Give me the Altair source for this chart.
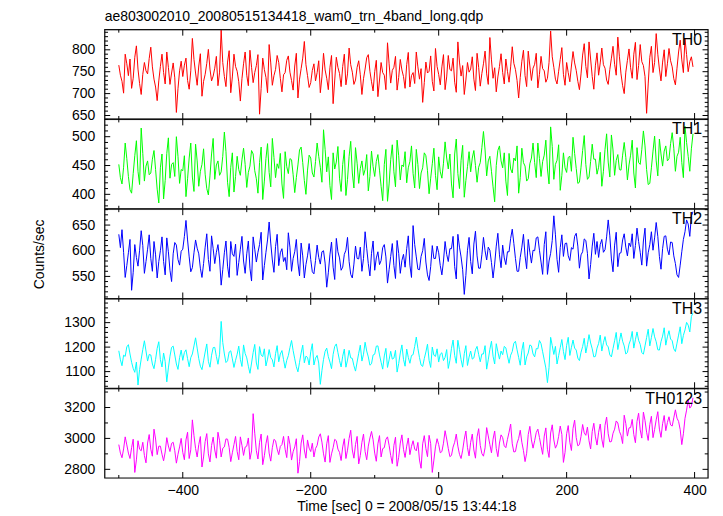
import altair as alt
import pandas as pd

# ---------------- data ----------------
t_start = -500
t_step = 2.5

th0 = [765, 742, 728, 701, 790, 768, 741, 779, 712, 735, 783, 809, 756, 723, 698, 744, 771, 752, 745, 780,
       806, 761, 733, 715, 684, 729, 762, 790, 748, 722, 795, 760, 721, 747, 770, 736, 657, 711, 752, 774,
       739, 765, 781, 730, 710, 752, 826, 778, 747, 719, 763, 791, 694, 728, 744, 769, 801, 756, 729, 740,
       758, 785, 718, 749, 845, 771, 739, 716, 772, 798, 702, 738, 790, 762, 751, 727, 683, 734, 768, 795,
       742, 718, 799, 760, 725, 748, 764, 789, 653, 712, 781, 755, 737, 702, 812, 770, 719, 741, 755, 787,
       771, 735, 704, 743, 748, 776, 786, 749, 730, 708, 763, 792, 690, 733, 757, 781, 819, 766, 741, 714,
       725, 753, 768, 729, 748, 775, 702, 738, 792, 754, 735, 709, 759, 787, 677, 731, 783, 760, 746, 716,
       762, 790, 720, 745, 804, 766, 749, 721, 731, 760, 775, 743, 698, 734, 756, 782, 789, 751, 727, 706,
       750, 776, 693, 731, 771, 748, 742, 709, 816, 768, 724, 753, 760, 785, 708, 737, 778, 754, 739, 712,
       766, 794, 715, 741, 748, 723, 795, 761, 733, 757, 680, 725, 772, 747, 751, 786, 728, 706, 803, 762,
       744, 720, 761, 789, 709, 738, 787, 755, 752, 781, 726, 703, 818, 772, 740, 764, 698, 731, 771, 749,
       756, 784, 733, 707, 792, 760, 717, 746, 768, 797, 745, 721, 828, 777, 735, 759, 704, 738, 762, 791,
       748, 722, 779, 751, 726, 761, 807, 769, 755, 730, 690, 737, 774, 799, 741, 716, 797, 763, 730, 758,
       767, 792, 713, 744, 785, 757, 752, 726, 735, 771, 843, 784, 760, 733, 722, 751, 778, 805, 744, 719,
       771, 748, 727, 763, 796, 770, 753, 728, 709, 745, 788, 814, 762, 736, 818, 779, 739, 710, 765, 793,
       742, 770, 804, 766, 758, 731, 721, 755, 781, 808, 767, 742, 829, 784, 745, 718, 700, 749, 776, 802,
       759, 735, 790, 817, 732, 764, 812, 773, 764, 739, 655, 722, 783, 808, 748, 771, 837, 790, 756, 729,
       772, 800, 739, 768, 803, 775, 761, 734, 720, 758, 795, 822, 777, 748, 826, 789, 750, 773, 784, 761]

th1 = [452, 429, 418, 447, 489, 462, 431, 408, 402, 436, 467, 493, 440, 417, 515, 471, 423, 449, 458, 434,
       437, 461, 476, 443, 409, 385, 446, 470, 392, 424, 471, 498, 428, 452, 455, 431, 500, 466, 419, 443,
       441, 467, 396, 427, 463, 489, 430, 405, 487, 458, 414, 440, 452, 479, 435, 410, 399, 432, 470, 497,
       426, 451, 458, 433, 439, 466, 508, 474, 421, 396, 447, 472, 404, 431, 466, 443, 433, 460, 480, 452,
       412, 438, 449, 476, 470, 441, 427, 402, 455, 482, 391, 423, 462, 488, 438, 413, 497, 464, 429, 453,
       445, 471, 418, 393, 474, 448, 436, 462, 460, 434, 403, 429, 451, 477, 482, 455, 424, 400, 442, 468,
       463, 437, 430, 457, 489, 466, 447, 421, 512, 478, 439, 465, 415, 391, 472, 444, 456, 483, 428, 405,
       452, 477, 398, 426, 466, 492, 437, 411, 481, 454, 419, 445, 458, 433, 443, 469, 406, 431, 475, 448,
       431, 457, 469, 442, 414, 389, 452, 478, 388, 418, 460, 486, 439, 413, 494, 467, 425, 451, 448, 474,
       420, 446, 457, 484, 436, 411, 478, 452, 410, 437, 446, 472, 467, 441, 401, 428, 453, 480, 433, 408,
       465, 439, 428, 454, 491, 463, 444, 470, 418, 394, 470, 496, 436, 410, 459, 485, 395, 424, 448, 474,
       439, 463, 476, 450, 421, 447, 455, 481, 509, 477, 432, 458, 466, 440, 413, 387, 450, 476, 484, 458,
       446, 472, 423, 398, 471, 444, 437, 463, 458, 484, 402, 429, 480, 455, 449, 423, 427, 453, 463, 489,
       455, 429, 489, 462, 431, 457, 468, 494, 444, 418, 517, 483, 426, 452, 459, 486, 407, 433, 472, 446,
       438, 464, 466, 440, 499, 471, 445, 419, 421, 447, 476, 502, 452, 426, 430, 457, 487, 461, 461, 435,
       447, 473, 414, 440, 478, 505, 456, 430, 503, 477, 433, 459, 469, 443, 442, 468, 490, 464, 425, 451,
       468, 494, 437, 411, 481, 455, 452, 478, 510, 484, 443, 417, 419, 446, 475, 501, 458, 432, 496, 470,
       449, 475, 484, 458, 462, 488, 507, 480, 440, 466, 473, 499, 455, 429, 518, 490, 466, 440, 479, 505]

th2 = [632, 606, 641, 597, 548, 571, 596, 622, 523, 558, 612, 587, 570, 601, 639, 610, 556, 579, 603, 631,
       585, 560, 618, 592, 547, 579, 600, 627, 579, 553, 625, 598, 562, 540, 594, 616, 611, 583, 572, 599,
       603, 628, 659, 621, 588, 559, 567, 596, 621, 605, 594, 566, 548, 575, 607, 633, 583, 560, 629, 604,
       575, 597, 612, 584, 533, 563, 596, 619, 570, 548, 618, 594, 589, 613, 552, 577, 603, 628, 580, 556,
       594, 619, 566, 541, 627, 603, 578, 597, 612, 636, 543, 571, 597, 621, 656, 615, 582, 558, 608, 632,
       571, 596, 604, 579, 587, 563, 635, 607, 560, 585, 598, 622, 576, 551, 615, 590, 547, 573, 590, 614,
       583, 559, 555, 581, 611, 587, 574, 598, 600, 576, 529, 557, 592, 617, 568, 544, 624, 598, 586, 562,
       568, 593, 601, 626, 579, 554, 547, 574, 609, 585, 584, 607, 560, 585, 637, 605, 575, 551, 595, 619,
       562, 586, 598, 573, 581, 606, 612, 588, 537, 563, 589, 614, 571, 546, 620, 595, 556, 581, 593, 568,
       604, 629, 572, 548, 649, 612, 588, 564, 563, 589, 600, 624, 578, 553, 542, 569, 610, 585, 585, 609,
       596, 571, 553, 580, 618, 593, 579, 604, 604, 628, 569, 545, 632, 607, 588, 563, 515, 552, 601, 626,
       579, 555, 613, 638, 590, 566, 566, 592, 626, 600, 582, 607, 601, 577, 547, 574, 609, 634, 592, 567,
       611, 586, 573, 598, 598, 624, 642, 614, 585, 560, 560, 587, 607, 632, 590, 565, 622, 597, 576, 601,
       600, 625, 627, 601, 578, 554, 612, 637, 554, 580, 595, 620, 668, 631, 583, 558, 606, 631, 589, 614,
       615, 590, 581, 606, 603, 628, 634, 609, 566, 592, 598, 623, 620, 595, 545, 573, 609, 634, 593, 618,
       587, 612, 622, 597, 602, 627, 660, 629, 584, 559, 611, 636, 569, 595, 596, 621, 633, 607, 590, 615,
       608, 633, 585, 610, 644, 618, 597, 572, 619, 644, 570, 596, 612, 637, 601, 625, 655, 628, 589, 564,
       604, 628, 629, 603, 592, 617, 616, 590, 575, 553, 548, 572, 598, 622, 637, 660, 652, 628, 668, 676]

th3 = [1185, 1148, 1124, 1167, 1162, 1201, 1210, 1172, 1138, 1113, 1097, 1139, 1045, 1108, 1151, 1190, 1226, 1184, 1143, 1170,
       1168, 1131, 1112, 1150, 1195, 1222, 1149, 1119, 1176, 1141, 1058, 1115, 1163, 1199, 1204, 1168, 1131, 1109, 1157, 1188,
       1146, 1178, 1189, 1153, 1120, 1157, 1172, 1205, 1238, 1196, 1153, 1122, 1108, 1144, 1180, 1213, 1142, 1118, 1167, 1198,
       1199, 1162, 1130, 1171, 1305, 1219, 1172, 1137, 1144, 1180, 1185, 1152, 1117, 1146, 1171, 1204, 1150, 1121, 1209, 1174,
       1156, 1122, 1093, 1135, 1178, 1211, 1135, 1109, 1202, 1168, 1161, 1193, 1123, 1151, 1190, 1157, 1148, 1119, 1173, 1206,
       1140, 1172, 1186, 1149, 1114, 1146, 1165, 1198, 1227, 1186, 1152, 1120, 1099, 1138, 1176, 1208, 1136, 1163, 1158, 1127,
       1181, 1214, 1127, 1155, 1166, 1135, 1048, 1104, 1150, 1183, 1196, 1161, 1139, 1112, 1170, 1203, 1213, 1178, 1145, 1119,
       1163, 1192, 1118, 1147, 1187, 1156, 1154, 1124, 1102, 1139, 1175, 1208, 1143, 1171, 1220, 1184, 1160, 1126, 1132, 1168,
       1171, 1204, 1205, 1168, 1138, 1110, 1164, 1195, 1117, 1148, 1183, 1151, 1155, 1187, 1098, 1133, 1176, 1209, 1150, 1122,
       1192, 1158, 1134, 1166, 1169, 1203, 1241, 1195, 1157, 1127, 1121, 1153, 1180, 1212, 1146, 1117, 1200, 1167, 1162, 1193,
       1139, 1171, 1177, 1145, 1158, 1190, 1113, 1146, 1195, 1229, 1166, 1134, 1228, 1190, 1149, 1118, 1173, 1206, 1125, 1159,
       1184, 1151, 1156, 1189, 1203, 1170, 1140, 1172, 1172, 1206, 1110, 1148, 1191, 1224, 1163, 1131, 1214, 1181, 1151, 1184,
       1169, 1203, 1197, 1164, 1134, 1167, 1182, 1216, 1224, 1189, 1158, 1126, 1187, 1220, 1127, 1160, 1176, 1209, 1205, 1172,
       1160, 1194, 1193, 1227, 1214, 1181, 1148, 1115, 1055, 1117, 1240, 1206, 1170, 1203, 1131, 1165, 1198, 1231, 1182, 1149,
       1207, 1240, 1166, 1199, 1229, 1196, 1188, 1155, 1145, 1179, 1202, 1236, 1176, 1210, 1251, 1217, 1193, 1160, 1162, 1196,
       1215, 1249, 1184, 1218, 1243, 1209, 1201, 1168, 1160, 1194, 1226, 1260, 1190, 1224, 1258, 1224, 1205, 1172, 1178, 1212,
       1230, 1264, 1196, 1230, 1262, 1228, 1211, 1178, 1171, 1205, 1239, 1273, 1205, 1239, 1276, 1242, 1222, 1189, 1188, 1222,
       1245, 1279, 1208, 1242, 1267, 1233, 1226, 1193, 1182, 1216, 1249, 1283, 1214, 1248, 1270, 1301, 1290, 1262, 1325, 1340]

th0123 = [2960, 2905, 2875, 2932, 3010, 2958, 2905, 2870, 2940, 2995, 2780, 2861, 2985, 2930, 2920, 2975, 2890, 2842, 2970, 3025,
          2930, 2885, 3060, 2996, 2895, 2950, 2950, 2898, 2855, 2912, 3005, 2951, 2915, 2968, 2975, 2921, 2840, 2897, 2945, 3000,
          2910, 2862, 2990, 3040, 2870, 2926, 3120, 3018, 2935, 2880, 2960, 3012, 2815, 2880, 2980, 3031, 2900, 2848, 2955, 3008,
          2925, 2872, 3040, 2985, 2880, 2936, 2945, 2997, 2995, 2941, 2850, 2907, 2960, 3013, 2915, 2862, 3010, 2955, 2890, 2944,
          2950, 3003, 2865, 2919, 3160, 3034, 2920, 2867, 2975, 3028, 2830, 2888, 2965, 3018, 2905, 2853, 2940, 2994, 2985, 2931,
          2895, 2949, 2960, 3013, 2930, 2876, 3015, 2962, 2860, 2914, 2945, 2998, 2775, 2850, 2970, 3023, 2925, 2872, 2990, 2937,
          2915, 2969, 2880, 2934, 2955, 3009, 3030, 2976, 2900, 2847, 2965, 3018, 2845, 2900, 2940, 2994, 2985, 2931, 2910, 2857,
          2945, 2998, 2870, 2924, 3000, 3053, 2925, 2872, 2960, 3013, 2835, 2890, 2975, 3028, 2915, 2862, 2950, 3003, 3045, 2991,
          2905, 2852, 2965, 3018, 2880, 2934, 2940, 2994, 3010, 2956, 2890, 2837, 2955, 3008, 2820, 2878, 2970, 3023, 2930, 2877,
          2950, 3003, 2895, 2949, 2985, 2931, 2920, 2974, 2860, 2807, 2965, 3018, 2935, 2882, 3020, 2966, 2780, 2860, 2945, 2998,
          2960, 2907, 2915, 2969, 3050, 2996, 2935, 2882, 2890, 2944, 2975, 3028, 2950, 2897, 2870, 2924, 2995, 3048, 2940, 2887,
          2975, 3028, 2925, 2872, 3010, 3063, 2955, 2902, 2885, 2939, 3070, 3016, 2960, 2907, 2995, 3048, 2935, 2882, 2970, 3023,
          3005, 2952, 2940, 2994, 3040, 3093, 2965, 2912, 2915, 2969, 3000, 3053, 2975, 2922, 2850, 2904, 3025, 3078, 2990, 2937,
          2985, 3038, 3060, 3006, 2950, 2897, 3015, 3068, 2930, 2877, 3035, 3088, 2990, 2937, 2960, 3013, 3080, 3026, 2845, 2910,
          3030, 3083, 2975, 2922, 3065, 3118, 3005, 2952, 2960, 3013, 3090, 3036, 3020, 3073, 2985, 2932, 3045, 3098, 3010, 2957,
          3040, 3093, 2995, 2942, 3085, 3138, 3030, 2977, 2980, 3033, 3060, 3113, 3100, 3046, 3020, 2967, 3150, 3096, 3015, 3068,
          3070, 3123, 3025, 2972, 3110, 3163, 3055, 3002, 3170, 3116, 3040, 2987, 3090, 3143, 3005, 3058, 3120, 3173, 3060, 3007,
          3095, 3148, 3050, 3103, 3140, 3087, 3080, 3133, 3185, 3131, 3110, 3057, 2960, 3030, 3130, 3183, 3250, 3196, 3210, 3263]

panel_names = ["TH0", "TH1", "TH2", "TH3", "TH0123"]
panel_series = [th0, th1, th2, th3, th0123]
panel_colors = ["#ff0000", "#00ff00", "#0000ff", "#00ffff", "#ff00ff"]
y_domains = [[642, 846], [375, 530], [507, 681], [1032, 1397], [2744, 3322]]
y_major = [[650, 700, 750, 800], [400, 450, 500], [550, 600, 650],
           [1100, 1200, 1300], [2800, 3000, 3200]]
y_major_step = [50, 50, 50, 100, 200]
y_minor_step = [10, 10, 10, 20, 100]

x_domain = [-522, 421]
x_labels = [-400, -200, 0, 200, 400]
x_minor = [-500, -300, -100, 100, 300]

title_text = "ae803002010_20080515134418_wam0_trn_4band_long.qdp"
x_title = "Time [sec] 0 = 2008/05/15 13:44:18"
y_title = "Counts/sec"

FONT = "Liberation Sans"
W = 605
H = 89.6
MAJ = 5.5   # major tick length (px)
MIN = 3.3   # minor tick length (px)


def panel(i):
    vals = panel_series[i]
    df = pd.DataFrame({"t": [t_start + t_step * k for k in range(len(vals))],
                       "v": vals})
    lo, hi = y_domains[i]
    step = y_minor_step[i]
    all_ticks = [v for v in range(lo - lo % step, hi + 1, step) if lo <= v <= hi]
    ymaj = [v for v in all_ticks if v % y_major_step[i] == 0]
    ymin = [v for v in all_ticks if v % y_major_step[i] != 0]

    xs = alt.Scale(domain=x_domain, nice=False, zero=False)
    ys = alt.Scale(domain=[lo, hi], nice=False, zero=False)
    bottom = i == len(panel_series) - 1

    if bottom:
        x_axis = alt.Axis(values=x_labels, ticks=False, tickSize=0, domain=False,
                          grid=False, labelPadding=6, labelFontSize=14,
                          labelFont=FONT, labelColor="black", labelFlush=False,
                          title=x_title, titleFontSize=14, titleFont=FONT,
                          titleFontWeight="normal", titleColor="black",
                          titlePadding=2)
    else:
        x_axis = None

    y_axis = alt.Axis(values=y_major[i], format="d", ticks=False, tickSize=0,
                      domain=False, grid=False, labelPadding=10, labelFontSize=14,
                      labelFont=FONT, labelColor="black",
                      minExtent=46, maxExtent=46,
                      title=y_title, titleFontSize=14, titleFont=FONT,
                      titleFontWeight="normal", titleColor="black",
                      titlePadding=12, titleOpacity=1 if i == 2 else 0)

    X = lambda f: alt.X(f, scale=xs, axis=x_axis)
    Y = lambda f: alt.Y(f, scale=ys, axis=y_axis)

    layers = [alt.Chart(df).mark_line(color=panel_colors[i], strokeWidth=1, clip=True).encode(
        x=X("t:Q"), y=Y("v:Q"))]

    # panel frame
    layers.append(alt.Chart(pd.DataFrame({"f": [0]})).mark_rect(
        fill="transparent", stroke="#111111", strokeWidth=1.2
    ).encode(x=alt.value(0), x2=alt.value(W), y=alt.value(0), y2=alt.value(H)))

    # inward tick marks on all four edges of the panel
    for vals_y, size in ((ymaj, MAJ), (ymin, MIN)):
        tdf = pd.DataFrame({"v": vals_y})
        for x0, x1 in ((0, size), (W, W - size)):
            layers.append(alt.Chart(tdf).mark_rule(color="black", strokeWidth=1).encode(
                y=Y("v:Q"), x=alt.value(x0), x2=alt.value(x1)))
    for vals_x, size in ((x_labels, 6), (x_minor, 3)):
        tdf = pd.DataFrame({"t": vals_x})
        for y0, y1 in ((0, size), (H, H - size)):
            layers.append(alt.Chart(tdf).mark_rule(color="black", strokeWidth=1).encode(
                x=X("t:Q"), y=alt.value(y0), y2=alt.value(y1)))

    layers.append(alt.Chart(pd.DataFrame({"name": [panel_names[i]]})).mark_text(
        align="right", baseline="middle", fontSize=16, font=FONT, color="black"
    ).encode(x=alt.value(W - 6), y=alt.value(10), text="name:N"))

    layer = alt.layer(*layers).properties(width=W, height=H)

    if i == 0:
        layer = layer.properties(title=alt.TitleParams(
            title_text, anchor="start", frame="group", fontSize=14,
            fontWeight="normal", font=FONT, color="black", offset=5))
    return layer


chart = alt.vconcat(*[panel(i) for i in range(5)], spacing=0, bounds="flush").properties(
    padding={"left": 24, "top": 0, "right": 5, "bottom": 0}
).configure_view(stroke="transparent").configure(background="white")

chart.save("out.html", embed_options={"renderer": "svg", "actions": False})
